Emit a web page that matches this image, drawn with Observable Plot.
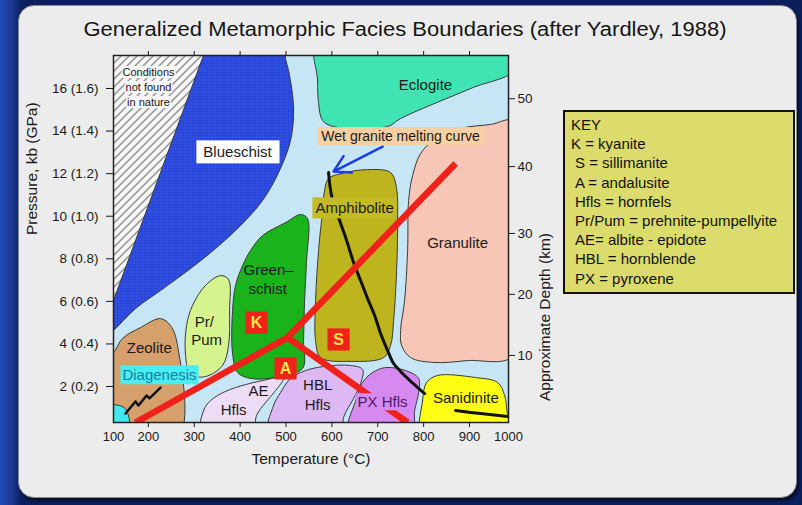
<!DOCTYPE html>
<html><head><meta charset="utf-8">
<script src="https://cdn.jsdelivr.net/npm/d3@7"></script>
<script src="https://cdn.jsdelivr.net/npm/@observablehq/plot@0.6"></script>
<style>
html,body{margin:0;padding:0;width:802px;height:505px;overflow:hidden;font-family:"Liberation Sans",Arial,sans-serif;}
body{background:#0b1f5c;position:relative;}
#leftband{position:absolute;left:0;top:0;width:22px;height:505px;background:linear-gradient(90deg,#2149b4 0,#1a3c9c 10px,#0b1f5c 22px);}
#panel{position:absolute;left:18px;top:5px;width:777px;height:491px;background:#ececec;border:1px solid #8a8a8a;border-radius:16px;box-shadow:2px 3px 3px rgba(0,0,0,.55);}
#title{position:absolute;left:0;width:810px;top:18px;text-align:center;font-size:20px;color:#151515;white-space:nowrap;transform:scaleX(1.1);transform-origin:405px 0;}
#chart{position:absolute;left:0;top:0;}
#key{position:absolute;left:563px;top:110px;width:228px;height:177px;background:#dcdc6c;border:2px solid #111;font-size:15px;line-height:19.2px;color:#111;padding:3px 0 0 0;box-sizing:content-box;}
#key div{white-space:nowrap;padding-left:6px;}
#key div.ind{padding-left:10px;}
</style></head>
<body>
<div id="leftband"></div>
<div id="panel"></div>
<div id="title">Generalized Metamorphic Facies Boundaries (after Yardley, 1988)</div>
<div id="chart"></div>
<div id="key"></div>
<script>
// ---------------- data (temperature °C, pressure kb) ----------------
const xTicks = [200, 300, 400, 500, 600, 700, 800, 900];
const xEndTicks = [124, 985];
const xEndLabels = ["100", "1000"];
const yTicks = [2, 4, 6, 8, 10, 12, 14, 16];
const yTickLabels = ["2 (0.2)", "4 (0.4)", "6 (0.6)", "8 (0.8)", "10 (1.0)", "12 (1.2)", "14 (1.4)", "16 (1.6)"];
const depthKb = [3.46, 6.33, 9.19, 12.33, 15.52];
const depthLabels = ["10", "20", "30", "40", "50"];

const hatched = [[124,17.55],[320,17.55],[124,6.04]];
const blueschist = [[100,18.3],[486,18.3],[500,17.3],[507.8,16.61],[516.5,15.06],[510,13.56],[483.8,12.05],[448.9,10.74],[400.9,9.56],[346.4,8.48],[291.9,7.54],[226.5,6.51],[172,5.66],[124,4.63],[100,4.2]];
const eclogite = [[568.8,18.3],[1000,18.3],[1000,16.9],[902.5,16.0],[749.8,14.59],[721.5,14.21],[603.7,14.21],[579.7,14.5],[571,15.3],[568.8,16.4]];
const granulite = [[1000,14.45],[1000,3.5],[895.9,3.22],[821.8,3.13],[771.6,3.36],[752,3.93],[749.8,4.63],[758.5,6.04],[765.1,8.39],[767.3,10.74],[776,11.91],[793.5,12.95],[821.8,13.56],[880.7,14.12],[946.1,14.31]];
const amphibolite = [[592.8,11.77],[619,12.0],[677.9,12.19],[728,12.05],[741.1,11.3],[743.3,9.8],[741.1,7.45],[734.6,5.1],[728,3.93],[712.8,3.36],[640.8,3.18],[575.4,3.36],[564.5,4.16],[564.5,6.04],[571,8.39],[579.7,10.27],[584.1,11.21]];
const greenschist = [[448.9,9.09],[499.1,9.7],[531.8,10.08],[547,9.89],[544.9,7.92],[540.5,6.04],[538.3,4.16],[536.1,2.85],[477.3,2.42],[422.7,2.38],[394.4,2.66],[383.5,3.55],[383.5,5.57],[390,6.75],[405.3,7.68],[422.7,8.39]];
const prPum = [[357.3,7.21],[374.8,7.03],[377,5.57],[374.8,3.93],[361.7,2.99],[324.6,2.47],[291.9,2.56],[281,3.46],[283.2,4.86],[296.3,5.81],[324.6,6.75]];
const zeolite = [[100,3.3],[124,3.6],[143.6,4.26],[182.9,4.77],[226.5,5.19],[248.3,4.86],[263.6,3.93],[263.6,-0.5],[100,-0.5]];
const diagenesisZone = [[100,1.05],[143.6,1.06],[154.5,0.78],[156.7,-0.5],[100,-0.5]];
const aeHfls = [[316,-0.3],[320.3,0.87],[335.5,1.34],[368.2,1.77],[411.8,2.09],[448.9,2.28],[494.8,2.42],[477.3,1.81],[455.4,1.25],[435.8,0.64],[426,-0.3]];
const hblHfls = [[462,-0.3],[472.9,1.11],[488.2,1.72],[510,2.38],[542.7,2.75],[581.9,2.94],[640.8,2.99],[667,2.8],[662.6,2.14],[647.3,1.44],[625.5,0.55],[620,-0.3]];
const pxHfls = [[636.4,-0.3],[651.7,1.34],[667,2.19],[688.8,2.66],[717.1,2.89],[760.7,2.75],[789.1,2.38],[789.1,1.72],[780.4,0.87],[773.8,-0.3]];
const sanidinite = [[797.8,-0.5],[797.8,1.34],[806.5,2.19],[830.5,2.52],[913.4,2.42],[961.4,2.19],[976.6,1.58],[982,0.8],[990,-0.5]];

const graniteCurve = [[592.8,12.05],[599.3,10.97],[614.6,9.94],[632.1,8.86],[647.3,7.83],[662.6,6.98],[677.9,6.13],[693.2,5.34],[706.2,4.49],[721.5,3.69],[734.6,3.08],[749.8,2.71],[765.1,2.38],[784.7,2.0],[802.2,1.67]];
const sanidiniteStroke = [[869.8,0.87],[902.5,0.78],[924.3,0.73],[985,0.59]];
const zigzag = [[150.2,0.73],[172,1.3],[178.5,1.11],[196,1.58],[202.5,1.44],[226.5,1.95]];
const arrowFrom = [710.6, 13.27];
const arrowTo = [603.7, 12.1];
const triplePoint = [503.4, 4.30];
const redEnds = [[172, 0.31], [869.8, 12.48], [765.1, 0.31]];

const plainLabels = [
  {t:"Eclogite", T:804, P:16.14},
  {t:"Granulite", T:874, P:8.72},
  {t:"Green–", T:462, P:7.45},
  {t:"schist", T:460, P:6.56},
  {t:"Pr/", T:322, P:5.0},
  {t:"Pum", T:327, P:4.16},
  {t:"Zeolite", T:202, P:3.79},
  {t:"AE", T:440, P:1.77},
  {t:"Hfls", T:386, P:0.87},
  {t:"HBL", T:569, P:2.05},
  {t:"Hfls", T:569, P:1.11},
  {t:"Sanidinite", T:892, P:1.44}
];
const conditionLabels = [
  {t:"Conditions", T:200.3, P:16.75},
  {t:"not found", T:200.3, P:16.05},
  {t:"in nature", T:200.3, P:15.34}
];
const mineralBoxes = [
  {t:"K", T:435.8, P:5.0},
  {t:"S", T:614.6, P:4.21},
  {t:"A", T:499.1, P:2.85}
];
const keyLines = ["KEY", "K = kyanite", "S = sillimanite", "A = andalusite", "Hfls = hornfels", "Pr/Pum = prehnite-pumpellyite", "AE= albite - epidote", "HBL = hornblende", "PX = pyroxene"];

// ---------------- chart ----------------
const yLabelMap = new Map(yTicks.map((d, i) => [d, yTickLabels[i]]));
const xEndMap = new Map(xEndTicks.map((d, i) => [d, xEndLabels[i]]));
const depthMap = new Map(depthKb.map((d, i) => [d, depthLabels[i]]));
const X = d => d[0], Y = d => d[1];
const outline = "#3a3a3a";
function region(pts, fill, extra = {}) {
  return Plot.line(pts, {x: X, y: Y, fill, stroke: outline, strokeWidth: 1, curve: "catmull-rom-closed", clip: true, ...extra});
}
const lab = (data, extra) => Plot.text(data, {x: "T", y: "P", text: "t", fill: "#1a1a1a", fontSize: 15, ...extra});

const plot = Plot.plot({
  width: 802, height: 505,
  marginTop: 55, marginBottom: 83, marginLeft: 113, marginRight: 294,
  style: {background: "transparent", fontFamily: "'Liberation Sans', Arial, sans-serif", fontSize: "13px", color: "#1a1a1a", overflow: "visible"},
  x: {domain: [124, 985]},
  y: {domain: [0.31, 17.55]},
  marks: [
    Plot.frame({fill: "#c6e6f6"}),
    region(blueschist, "url(#dots)"),
    region(hatched, "url(#hatch)", {curve: "linear-closed"}),
    region(eclogite, "#3fe4b2"),
    region(granulite, "#f8c6b6"),
    region(amphibolite, "#bdb41e"),
    region(greenschist, "#1ab31c"),
    region(prPum, "#d6f48e"),
    region(zeolite, "#d6a06c"),
    region(diagenesisZone, "#40e8f0"),
    region(aeHfls, "#ecdcf6"),
    region(hblHfls, "#ddb8f3"),
    region(pxHfls, "#d68af0"),
    region(sanidinite, "#ffff14"),
    Plot.line(graniteCurve, {x: X, y: Y, stroke: "#111", strokeWidth: 3, curve: "catmull-rom"}),
    Plot.line(sanidiniteStroke, {x: X, y: Y, stroke: "#111", strokeWidth: 3, clip: true}),
    Plot.line(zigzag, {x: X, y: Y, stroke: "#111", strokeWidth: 2.5}),
    Plot.link(redEnds, {x1: () => triplePoint[0], y1: () => triplePoint[1], x2: X, y2: Y, stroke: "#f0211b", strokeWidth: 6.5, clip: true}),
    Plot.arrow([0], {x1: () => arrowFrom[0], y1: () => arrowFrom[1], x2: () => arrowTo[0], y2: () => arrowTo[1], stroke: "#1d3de6", strokeWidth: 2.5, headLength: 11}),
    lab(plainLabels),
    lab(conditionLabels, {fontSize: 11, ariaDescription: "bg-cond"}),
    lab([{t:"Blueschist", T:394.4, P:12.99}], {ariaDescription: "bg-white"}),
    lab([{t:"Wet granite melting curve", T:749.8, P:13.74}], {ariaDescription: "bg-peach", fontSize: 14}),
    lab([{t:"Amphibolite", T:649.5, P:10.36}], {ariaDescription: "bg-olive"}),
    lab([{t:"Diagenesis", T:224.3, P:2.52}], {ariaDescription: "bg-cyan", fill: "#1c7fa0"}),
    lab([{t:"PX Hfls", T:710.6, P:1.25}], {ariaDescription: "bg-purple", fill: "#4a1a6a"}),
    Plot.dot(mineralBoxes, {x: "T", y: "P", symbol: "square", r: 12.5, fill: "#ee2418", stroke: "none"}),
    Plot.text(mineralBoxes, {x: "T", y: "P", text: "t", fill: "#ffe14a", fontSize: 16, fontWeight: "bold"}),
    Plot.frame({stroke: "#222", strokeWidth: 1.5}),
    Plot.axisX({ticks: xTicks, tickSize: 5, tickPadding: 4, fontSize: 13, label: null}),
    Plot.axisX({ticks: xEndTicks, tickSize: 0, tickPadding: 9, fontSize: 13, tickFormat: d => xEndMap.get(d), label: null}),
    Plot.axisX({anchor: "top", ticks: xTicks, tickSize: 5, tickFormat: () => "", label: null}),
    Plot.axisY({ticks: yTicks, tickSize: 7, tickPadding: 8, fontSize: 13.5, tickFormat: d => yLabelMap.get(d), label: null}),
    Plot.axisY({anchor: "right", ticks: depthKb, tickSize: 6, tickPadding: 3, fontSize: 13.5, tickFormat: d => depthMap.get(d), label: null}),
    Plot.text(["Temperature (°C)"], {frameAnchor: "bottom", dy: 41, fontSize: 15.5, fill: "#1a1a1a"}),
    Plot.text(["Pressure, kb (GPa)"], {frameAnchor: "left", dx: -81, dy: -4, rotate: -90, fontSize: 15.5, fill: "#1a1a1a"}),
    Plot.text(["Approximate Depth (km)"], {frameAnchor: "right", dx: 37, dy: -6, rotate: -90, fontSize: 15.5, fill: "#1a1a1a"})
  ]
});

document.getElementById("chart").append(plot);

// patterns
const NS = "http://www.w3.org/2000/svg";
const defs = document.createElementNS(NS, "defs");
defs.innerHTML = `
<pattern id="hatch" patternUnits="userSpaceOnUse" width="8" height="8">
  <rect width="8" height="8" fill="#f6f6f6"/>
  <path d="M-2,2 l4,-4 M0,8 l8,-8 M6,10 l4,-4" stroke="#2a2a2a" stroke-width="1"/>
</pattern>
<pattern id="dots" patternUnits="userSpaceOnUse" width="3" height="3">
  <rect width="3" height="3" fill="#2846da"/>
  <rect x="1" y="1" width="1" height="1" fill="#5373f0"/>
</pattern>`;
plot.insertBefore(defs, plot.firstChild);

// label backgrounds
const bgStyles = {
  "bg-cond": {fill: "#f6f6f6", px: 1, py: 0},
  "bg-white": {fill: "#ffffff", px: 7, py: 3},
  "bg-peach": {fill: "#f6cfa2", px: 4, py: 1},
  "bg-olive": {fill: "#c4ba26", px: 3, py: 2},
  "bg-cyan": {fill: "#48eef2", px: 2, py: 1},
  "bg-purple": {fill: "#d68af0", px: 2, py: 0}
};
for (const [key, cfg] of Object.entries(bgStyles)) {
  plot.querySelectorAll(`g[aria-description="${key}"] text`).forEach(t => {
    const b = t.getBBox();
    const r = document.createElementNS(NS, "rect");
    r.setAttribute("x", b.x - cfg.px);
    r.setAttribute("y", b.y - cfg.py);
    r.setAttribute("width", b.width + 2 * cfg.px);
    r.setAttribute("height", b.height + 2 * cfg.py);
    r.setAttribute("fill", cfg.fill);
    const tr = t.getAttribute("transform");
    if (tr) r.setAttribute("transform", tr);
    t.parentNode.insertBefore(r, t);
  });
}

// key
const key = document.getElementById("key");
keyLines.forEach((s, i) => {
  const d = document.createElement("div");
  d.textContent = s;
  if (i >= 2) d.className = "ind";
  key.append(d);
});
</script>
</body></html>
